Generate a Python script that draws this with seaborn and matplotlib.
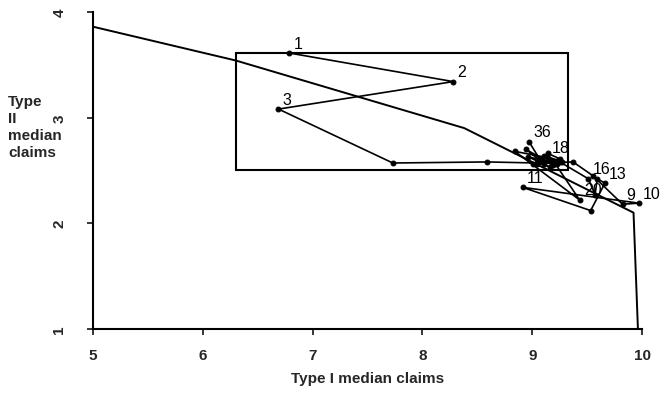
import matplotlib
matplotlib.use("Agg")
import matplotlib.pyplot as plt
import matplotlib.patches as mpatches
import seaborn as sns
import pandas as pd

# Median claims per round (type I, type II)
rounds = list(range(1, 37))
type1_claims = [6.79, 8.28, 6.69, 7.73, 8.59, 9.04, 9.37, 9.55, 9.82, 9.97,
                8.91, 9.53, 9.66, 9.59, 9.57, 9.51, 9.25, 9.14, 8.84, 9.43,
                9.19, 9.01, 9.11, 9.27, 9.16, 8.96, 9.22, 9.07, 9.14, 9.25,
                9.04, 9.11, 8.94, 9.19, 9.07, 8.97]
type2_claims = [3.61, 3.34, 3.08, 2.57, 2.58, 2.57, 2.58, 2.45, 2.18, 2.19,
                2.34, 2.12, 2.38, 2.42, 2.27, 2.42, 2.58, 2.62, 2.68, 2.22,
                2.59, 2.56, 2.64, 2.58, 2.53, 2.63, 2.56, 2.61, 2.66, 2.61,
                2.56, 2.56, 2.70, 2.55, 2.60, 2.77]
labelled_rounds = [1, 2, 3, 9, 10, 11, 13, 16, 18, 20, 36]

# Reference curve
curve_x = [5.0, 6.30, 8.38, 9.92, 9.96]
curve_y = [3.86, 3.54, 2.90, 2.10, 1.0]

# Highlighted region
box_x = [6.30, 9.32]
box_y = [2.50, 3.61]

x_ticks = [5, 6, 7, 8, 9, 10]
y_ticks = [1, 2, 3, 4]
y_title_lines = ["Type", "II", "median", "claims"]

sns.set_style("ticks")
plt.rcParams["font.family"] = ["Liberation Sans", "DejaVu Sans"]
plt.rcParams["font.weight"] = "bold"

fig = plt.figure(figsize=(6.67, 4.14), dpi=100)
ax = fig.add_axes([0.139, 0.203, 0.824, 0.766])

df = pd.DataFrame({"round": rounds, "t1": type1_claims, "t2": type2_claims})
curve = pd.DataFrame({"t1": curve_x, "t2": curve_y})

sns.lineplot(data=curve, x="t1", y="t2", sort=False, estimator=None,
             color="black", linewidth=1.4, ax=ax)
sns.lineplot(data=df, x="t1", y="t2", sort=False, estimator=None,
             color="black", linewidth=1.2, marker="o", markersize=3.5,
             markeredgecolor="black", ax=ax)

ax.add_patch(mpatches.Rectangle((box_x[0], box_y[0]), box_x[1] - box_x[0],
                                box_y[1] - box_y[0], fill=False,
                                edgecolor="black", linewidth=1.5))

for r, x, y in zip(rounds, type1_claims, type2_claims):
    if r in labelled_rounds:
        ax.annotate(str(r), (x, y), xytext=(3, 4), textcoords="offset points",
                    fontsize=11.5, fontweight="normal", color="black",
                    annotation_clip=False)

ax.set_xlim(5, 10)
ax.set_ylim(1, 4)
ax.set_xticks(x_ticks)
ax.set_yticks(y_ticks)
ax.tick_params(axis="x", labelsize=11, length=4, width=1.3, pad=10)
ax.tick_params(axis="y", labelsize=11, length=4, width=1.3, pad=15,
               labelrotation=90)
for lbl in ax.get_yticklabels():
    lbl.set_va("center")

for side in ["top", "right"]:
    ax.spines[side].set_visible(False)
for side in ["left", "bottom"]:
    ax.spines[side].set_linewidth(1.5)
    ax.spines[side].set_color("black")

ax.set_xlabel("Type I median claims", fontsize=11, fontweight="bold",
              labelpad=6)
ax.set_ylabel("")

# Vertical-axis title, one line per word, stacked at the left edge
line_step = 17 / 414
for i, word in enumerate(y_title_lines):
    fig.text(0.012, 1 - 102 / 414 - i * line_step, word, fontsize=11,
             fontweight="bold", ha="left", va="center")

fig.savefig("out.png", dpi=100, facecolor="white")
